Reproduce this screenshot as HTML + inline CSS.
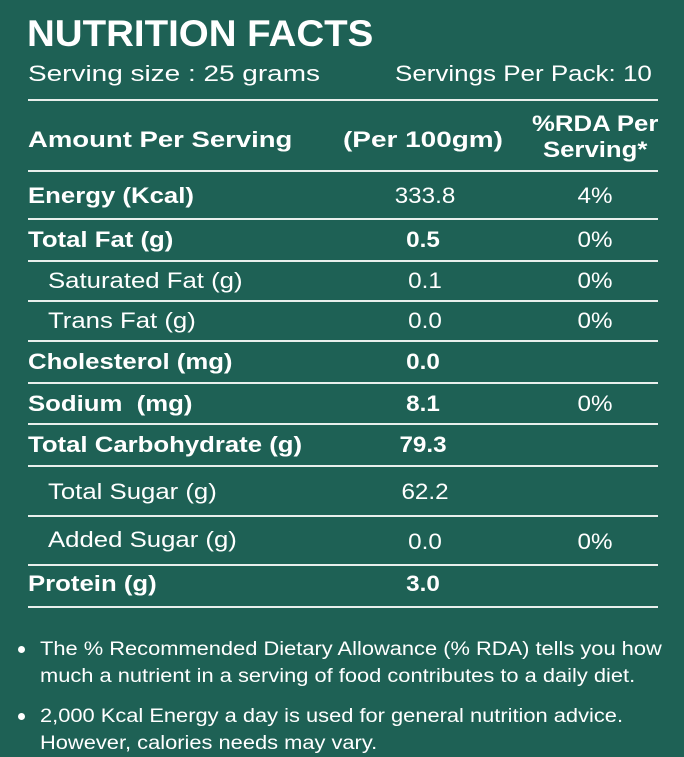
<!DOCTYPE html>
<html><head><style>
body{margin:0;width:684px;height:756px;background:#1e6155;color:#fff;font-family:"Liberation Sans",sans-serif;position:relative;overflow:hidden}
.a{position:absolute;white-space:nowrap;transform-origin:0 0;transform:scaleX(1.17)}
.l{position:absolute;left:28px;width:630px;height:2px;background:#e8efec}
.c{transform-origin:50% 0;transform:translateX(-50%) scaleX(1.1)}
.b{font-weight:bold}
.r{font-size:22px;line-height:26px}
.dot{position:absolute;width:7px;height:7px;border-radius:50%;background:#fff}
</style></head><body>
<div class="a b" style="left:27px;top:14px;font-size:37px;line-height:40px;transform:scaleX(1.04)">NUTRITION FACTS</div>
<div class="a" style="left:28px;top:61px;font-size:22px;transform:scaleX(1.27)">Serving size : 25 grams</div>
<div class="a" style="left:395px;top:61px;font-size:22px;transform:scaleX(1.18)">Servings Per Pack: 10</div>
<div class="l" style="top:99px"></div>
<div class="a b" style="left:28px;top:127px;font-size:22px;transform:scaleX(1.25)">Amount Per Serving</div>
<div class="a b" style="left:343px;top:127px;font-size:22px;transform:scaleX(1.27)">(Per 100gm)</div>
<div class="a b" style="left:532px;top:111px;font-size:22px;line-height:26px;text-align:center;transform:scaleX(1.17)">%RDA Per<br>Serving*</div>
<div class="l" style="top:170px"></div>

<div class="a r b" style="left:28px;top:183px">Energy (Kcal)</div>
<div class="a r c" style="left:425px;top:183px">333.8</div>
<div class="a r c" style="left:595px;top:183px">4%</div>
<div class="l" style="top:218px"></div>

<div class="a r b" style="left:28px;top:227px">Total Fat (g)</div>
<div class="a r c b" style="left:423px;top:227px">0.5</div>
<div class="a r c" style="left:595px;top:227px">0%</div>
<div class="l" style="top:260px"></div>

<div class="a r" style="left:48px;top:268px">Saturated Fat (g)</div>
<div class="a r c" style="left:425px;top:268px">0.1</div>
<div class="a r c" style="left:595px;top:268px">0%</div>
<div class="l" style="top:300px"></div>

<div class="a r" style="left:48px;top:308px">Trans Fat (g)</div>
<div class="a r c" style="left:425px;top:308px">0.0</div>
<div class="a r c" style="left:595px;top:308px">0%</div>
<div class="l" style="top:340px"></div>

<div class="a r b" style="left:28px;top:349px">Cholesterol (mg)</div>
<div class="a r c b" style="left:423px;top:349px">0.0</div>
<div class="l" style="top:382px"></div>

<div class="a r b" style="left:28px;top:391px">Sodium&nbsp; (mg)</div>
<div class="a r c b" style="left:423px;top:391px">8.1</div>
<div class="a r c" style="left:595px;top:391px">0%</div>
<div class="l" style="top:423px"></div>

<div class="a r b" style="left:28px;top:432px">Total Carbohydrate (g)</div>
<div class="a r c b" style="left:423px;top:432px">79.3</div>
<div class="l" style="top:465px"></div>

<div class="a r" style="left:48px;top:479px">Total Sugar (g)</div>
<div class="a r c" style="left:425px;top:479px">62.2</div>
<div class="l" style="top:515px"></div>

<div class="a r" style="left:48px;top:527px">Added Sugar (g)</div>
<div class="a r c" style="left:425px;top:529px">0.0</div>
<div class="a r c" style="left:595px;top:529px">0%</div>
<div class="l" style="top:564px"></div>

<div class="a r b" style="left:28px;top:571px">Protein (g)</div>
<div class="a r c b" style="left:423px;top:571px">3.0</div>
<div class="l" style="top:606px"></div>

<div class="dot" style="left:18px;top:646px"></div>
<div class="a" style="left:40px;top:636px;font-size:19px;line-height:27px;transform:scaleX(1.15)">The % Recommended Dietary Allowance (% RDA) tells you how<br>much a nutrient in a serving of food contributes to a daily diet.</div>
<div class="dot" style="left:18px;top:713px"></div>
<div class="a" style="left:40px;top:703px;font-size:19px;line-height:27px;transform:scaleX(1.15)">2,000 Kcal Energy a day is used for general nutrition advice.<br>However, calories needs may vary.</div>
</body></html>
